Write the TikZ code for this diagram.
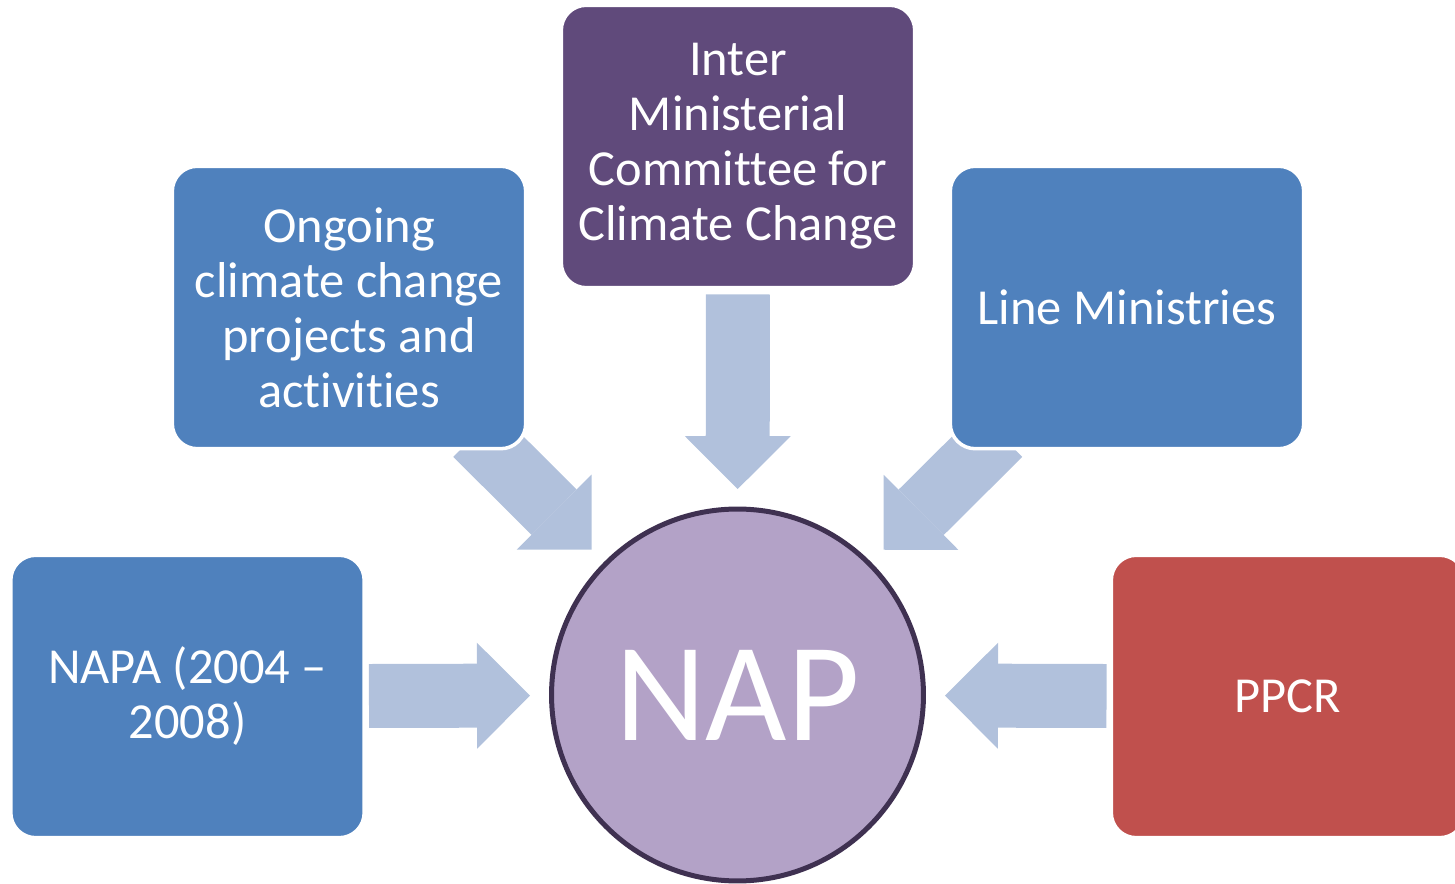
\documentclass[tikz,border=0pt]{standalone}
\usepackage{fontspec}
\setmainfont{Carlito}[Ligatures=NoCommon]
\usetikzlibrary{arrows.meta,backgrounds}

\definecolor{boxblue}{HTML}{4F81BD}
\definecolor{boxpurple}{HTML}{604A7B}
\definecolor{boxred}{HTML}{C0504D}
\definecolor{naplight}{HTML}{B3A2C7}
\definecolor{napdark}{HTML}{3F3151}
\definecolor{arrowblue}{RGB}{177,193,220}

\begin{document}
\begin{tikzpicture}[x=0.02cm,y=-0.02cm,
    bloc/.style={rectangle,rounded corners=0.5cm,draw=white,line width=2pt,
      minimum width=7.07cm,minimum height=5.65cm,inner sep=0pt,text=white,
      align=center,font=\fontsize{28.7}{31.3}\selectfont},
    flux/.style={arrowblue,line width=1.28cm,
      -{Triangle[length=1.06cm,width=2.12cm,line width=0pt]}}]
  \useasboundingbox (0,0) rectangle (1455,884);
  % NAP
  \node[circle,draw=napdark,fill=naplight,line width=0.1cm,minimum size=7.44cm,
    text=white,font=\fontsize{80}{90}\selectfont] (nap) at (737.5,695) {NAP};
  % Sources
  \node[bloc,fill=boxpurple] (imc) at (738,146.5) {Inter\\Ministerial\\Committee for\\Climate Change};
  \node[bloc,fill=boxblue] (ongoing) at (349,307.5) {Ongoing\\climate change\\projects and\\activities};
  \node[bloc,fill=boxblue] (line) at (1127,307.5) {Line Ministries};
  \node[bloc,fill=boxblue] (napa) at (187.5,696.5) {NAPA (2004 –\\2008)};
  \node[bloc,fill=boxred] (ppcr) at (1288,696.5) {PPCR};
  % Fleches
  \begin{scope}[on background layer]
    \draw[flux,shorten <=0.1cm,shorten >=0.35cm] (imc) -- (nap);
    \draw[flux,shorten <=-0.46cm,shorten >=0.35cm] (ongoing) -- (nap);
    \draw[flux,shorten <=-0.46cm,shorten >=0.35cm] (line) -- (nap);
    \draw[flux,shorten <=0.06cm,shorten >=0.38cm] (napa) -- (nap);
    \draw[flux,shorten <=0.06cm,shorten >=0.38cm] (ppcr) -- (nap);
  \end{scope}
\end{tikzpicture}
\end{document}
